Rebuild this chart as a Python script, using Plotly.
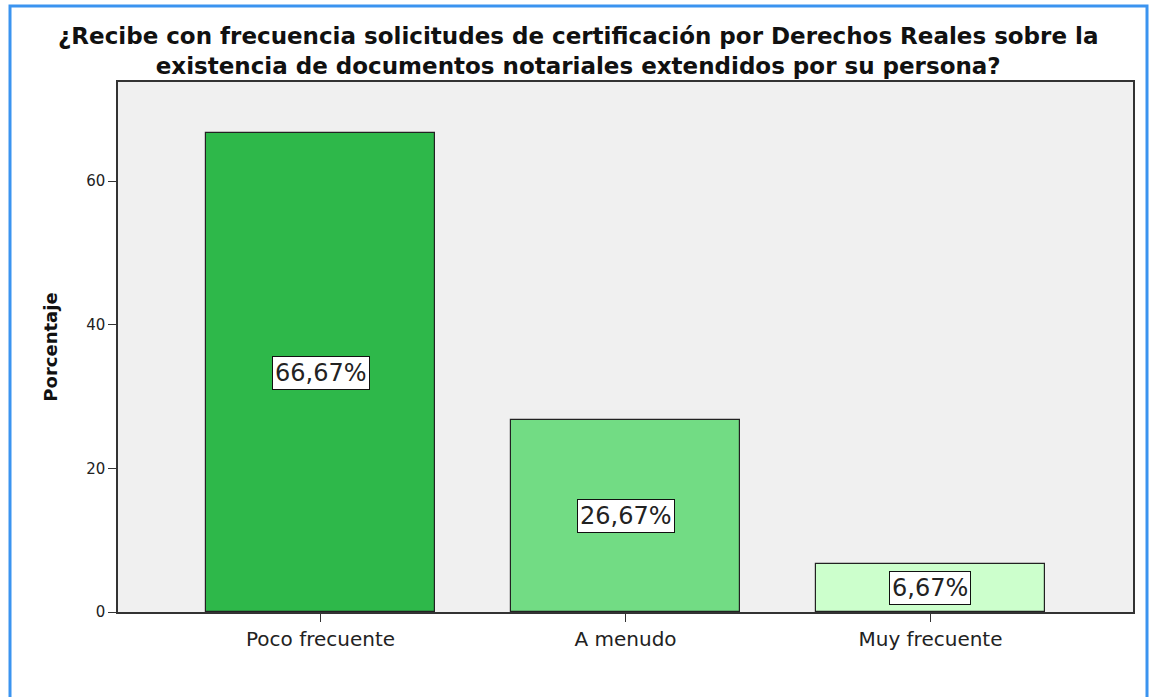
import plotly.graph_objects as go

categorias = ["Poco frecuente", "A menudo", "Muy frecuente"]
porcentajes = [66.67, 26.67, 6.67]
etiquetas = ["66,67%", "26,67%", "6,67%"]
colores = ["#2eb84a", "#72dc84", "#ccffcc"]
y_ticks = [0, 20, 40, 60]
titulo = (
    "¿Recibe con frecuencia solicitudes de certificación por Derechos Reales sobre la"
    "<br>existencia de documentos notariales extendidos por su persona?"
)

FUENTE = "DejaVu Sans, Arial"

fig = go.Figure()
fig.add_trace(
    go.Bar(
        x=[0, 1, 2],
        y=porcentajes,
        width=0.748,
        marker=dict(color=colores, line=dict(color="#222222", width=1.2)),
        hoverinfo="skip",
    )
)

# etiquetas en recuadro blanco a media altura de cada barra
for i, (v, txt) in enumerate(zip(porcentajes, etiquetas)):
    fig.add_annotation(
        x=i,
        y=v / 2,
        text=txt,
        showarrow=False,
        font=dict(family=FUENTE, size=24, color="#222222"),
        bgcolor="white",
        bordercolor="#111111",
        borderwidth=1,
        borderpad=2,
    )

# título
fig.add_annotation(
    xref="paper",
    yref="paper",
    x=0.453,
    y=1.058,
    text="<b>" + titulo + "</b>",
    showarrow=False,
    xanchor="center",
    yanchor="middle",
    align="center",
    font=dict(family=FUENTE, size=23, color="#111111"),
)

# marco azul exterior
fig.add_shape(
    type="rect",
    xref="paper",
    yref="paper",
    x0=-0.1064,
    x1=1.0138,
    y0=-0.25,
    y1=1.1434,
    line=dict(color="#3b94f0", width=3),
    layer="below",
)

fig.update_layout(
    width=1152,
    height=697,
    margin=dict(l=118, r=19, t=82, b=85),
    paper_bgcolor="white",
    plot_bgcolor="#f0f0f0",
    showlegend=False,
    bargap=0,
    xaxis=dict(
        range=[-0.664, 2.664],
        tickvals=[0, 1, 2],
        ticktext=categorias,
        ticks="outside",
        ticklen=8,
        tickcolor="#333333",
        showline=True,
        linecolor="#333333",
        linewidth=1.5,
        mirror=True,
        showgrid=False,
        zeroline=False,
        tickfont=dict(family=FUENTE, size=20, color="#222222"),
    ),
    yaxis=dict(
        range=[0, 73.8],
        tickvals=y_ticks,
        ticks="outside",
        ticklen=8,
        tickcolor="#333333",
        showline=True,
        linecolor="#333333",
        linewidth=1.5,
        mirror=True,
        showgrid=False,
        zeroline=False,
        tickfont=dict(family=FUENTE, size=15, color="#222222"),
        title=dict(
            text="<b>Porcentaje</b>",
            standoff=24,
            font=dict(family=FUENTE, size=18, color="#111111"),
        ),
    ),
)

# sin margen del body para que el gráfico ocupe la ventana exacta
fig.write_html(
    "out.html",
    config={"displayModeBar": False},
    post_script="document.body.style.margin='0';",
)
